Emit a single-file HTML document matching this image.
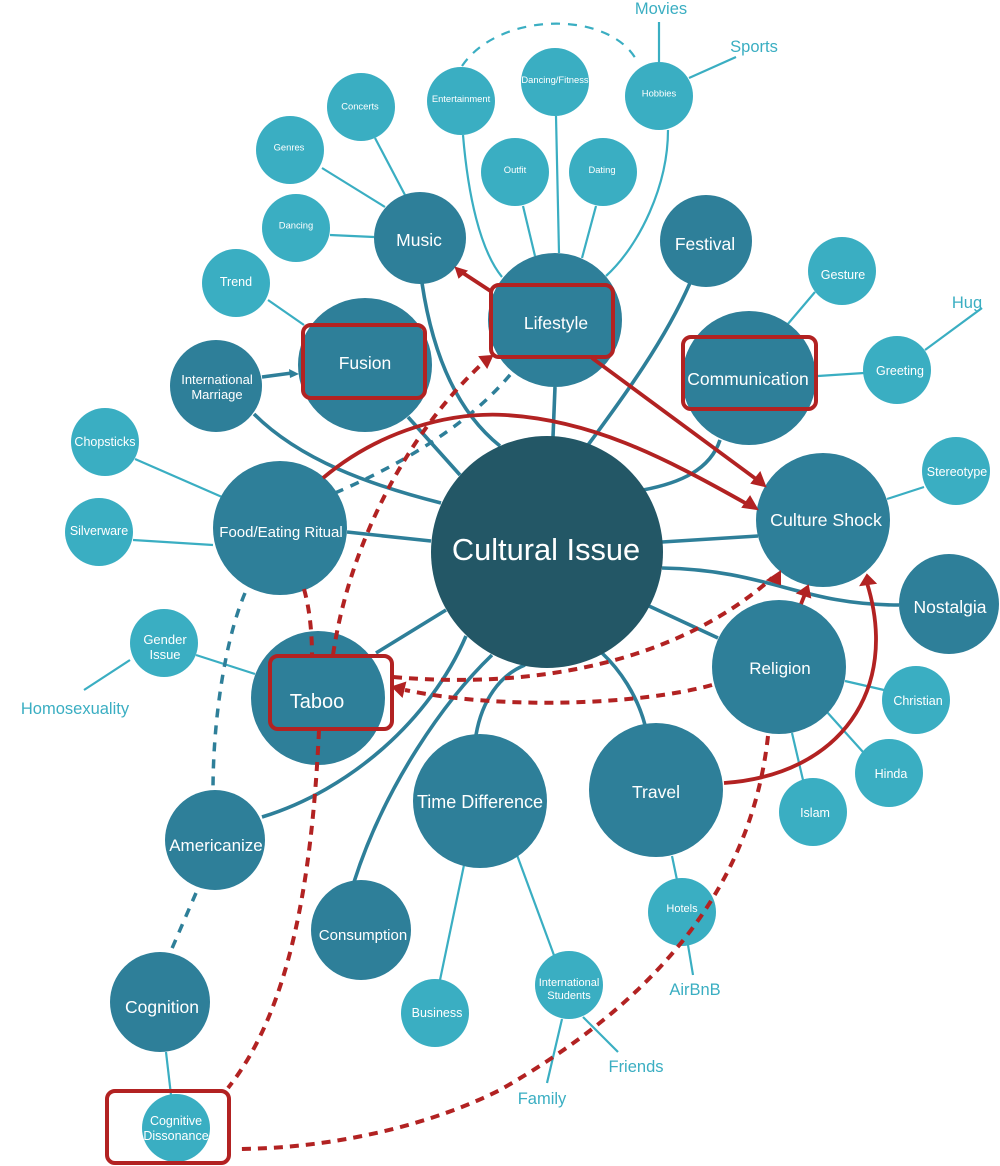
<!DOCTYPE html>
<html><head><meta charset="utf-8"><style>
html,body{margin:0;padding:0;background:#fff}
svg{display:block}
text{font-family:"Liberation Sans",sans-serif;text-anchor:middle;fill:#fff}
.o{fill:#3aaec2;text-anchor:middle}
.d path,.d line{stroke:#2e7f99;stroke-width:3.6;fill:none}
.l path,.l line{stroke:#3aaec2;stroke-width:2.2;fill:none}
.rs path,.rs line{stroke:#b22222;stroke-width:3.8;fill:none}
.rd path{stroke:#b22222;stroke-width:4;fill:none;stroke-dasharray:9 7}
.td path{stroke:#2e7f99;stroke-width:3.5;fill:none;stroke-dasharray:9 8}
.m{fill:#2e7f99}.s{fill:#3aaec2}
rect{fill:none;stroke:#b22222;stroke-width:4}
</style></head><body>
<svg width="1000" height="1166" viewBox="0 0 1000 1166" xmlns="http://www.w3.org/2000/svg">
<g class="l">
<path d="M463 135C468 195 480 250 502 277"/>
<path d="M556 116L559 253"/>
<path d="M523 206L535 256"/>
<path d="M596 206L582 258"/>
<path d="M668 130C668 185 640 245 606 276"/>
<line x1="659" y1="22" x2="659" y2="62"/>
<line x1="689" y1="78" x2="736" y2="57"/>
<line x1="375" y1="138" x2="405" y2="195"/>
<line x1="322" y1="168" x2="385" y2="207"/>
<line x1="330" y1="235" x2="374" y2="237"/>
<line x1="268" y1="300" x2="304" y2="325"/>
<line x1="135" y1="459" x2="222" y2="497"/>
<line x1="133" y1="540" x2="213" y2="545"/>
<line x1="196" y1="655" x2="255" y2="674"/>
<line x1="130" y1="660" x2="84" y2="690"/>
<line x1="815" y1="292" x2="787" y2="325"/>
<line x1="864" y1="373" x2="818" y2="376"/>
<line x1="925" y1="350" x2="982" y2="308"/>
<line x1="924" y1="487" x2="887" y2="499"/>
<line x1="845" y1="681" x2="884" y2="690"/>
<line x1="827" y1="712" x2="863" y2="752"/>
<line x1="792" y1="733" x2="803" y2="780"/>
<line x1="672" y1="856" x2="677" y2="880"/>
<line x1="688" y1="945" x2="693" y2="975"/>
<line x1="464" y1="865" x2="440" y2="980"/>
<line x1="517" y1="855" x2="555" y2="958"/>
<line x1="583" y1="1017" x2="618" y2="1052"/>
<line x1="562" y1="1019" x2="547" y2="1083"/>
<line x1="166" y1="1052" x2="171" y2="1095"/>
<path d="M462 66C500 10 613 10 638 63" stroke-dasharray="9 8" stroke-width="2.6"/>
</g>
<g class="d">
<line x1="262" y1="377" x2="292" y2="373"/>
<path d="M254 414C300 460 370 485 441 503"/>
<line x1="408" y1="417" x2="460" y2="475"/>
<path d="M422 283C432 350 455 410 500 446"/>
<line x1="347" y1="532" x2="431" y2="541"/>
<line x1="376" y1="653" x2="446" y2="610"/>
<path d="M262 817C350 790 430 720 466 636"/>
<path d="M354 882C385 785 445 700 492 655"/>
<path d="M476 735C482 700 500 675 525 665"/>
<path d="M602 653C620 670 637 695 645 725"/>
<line x1="718" y1="638" x2="649" y2="606"/>
<path d="M662 568C770 570 800 605 899 605"/>
<line x1="662" y1="542" x2="758" y2="536"/>
<path d="M643 490C680 483 710 470 720 440"/>
<path d="M690 283C665 340 625 395 588 445"/>
<line x1="555" y1="387" x2="553" y2="437"/>
</g>
<polygon points="299,374 289,369 290,378" fill="#2e7f99"/>
<g class="td">
<path d="M335 493C400 465 470 425 514 370"/>
<path d="M245 593C225 640 213 720 213 790"/>
<path d="M196 893L170 953"/>
</g>
<circle class="m" cx="555" cy="320" r="67"/>
<circle class="m" cx="365" cy="365" r="67"/>
<circle class="m" cx="420" cy="238" r="46"/>
<circle class="m" cx="706" cy="241" r="46"/>
<circle class="m" cx="749" cy="378" r="67"/>
<circle class="m" cx="823" cy="520" r="67"/>
<circle class="m" cx="949" cy="604" r="50"/>
<circle class="m" cx="779" cy="667" r="67"/>
<circle class="m" cx="656" cy="790" r="67"/>
<circle class="m" cx="480" cy="801" r="67"/>
<circle class="m" cx="361" cy="930" r="50"/>
<circle class="m" cx="215" cy="840" r="50"/>
<circle class="m" cx="160" cy="1002" r="50"/>
<circle class="m" cx="318" cy="698" r="67"/>
<circle class="m" cx="280" cy="528" r="67"/>
<circle class="m" cx="216" cy="386" r="46"/>
<circle class="s" cx="956" cy="471" r="34"/>
<circle class="s" cx="916" cy="700" r="34"/>
<circle class="s" cx="889" cy="773" r="34"/>
<circle class="s" cx="813" cy="812" r="34"/>
<circle class="s" cx="682" cy="912" r="34"/>
<circle class="s" cx="435" cy="1013" r="34"/>
<circle class="s" cx="569" cy="985" r="34"/>
<circle class="s" cx="176" cy="1128" r="34"/>
<circle class="s" cx="164" cy="643" r="34"/>
<circle class="s" cx="99" cy="532" r="34"/>
<circle class="s" cx="105" cy="442" r="34"/>
<circle class="s" cx="236" cy="283" r="34"/>
<circle class="s" cx="296" cy="228" r="34"/>
<circle class="s" cx="290" cy="150" r="34"/>
<circle class="s" cx="361" cy="107" r="34"/>
<circle class="s" cx="461" cy="101" r="34"/>
<circle class="s" cx="555" cy="82" r="34"/>
<circle class="s" cx="659" cy="96" r="34"/>
<circle class="s" cx="515" cy="172" r="34"/>
<circle class="s" cx="603" cy="172" r="34"/>
<circle class="s" cx="842" cy="271" r="34"/>
<circle class="s" cx="897" cy="370" r="34"/>
<circle cx="547" cy="552" r="116" fill="#235766"/>
<rect x="491" y="285" width="122" height="72" rx="8"/>
<rect x="303" y="325" width="122" height="73" rx="8"/>
<rect x="683" y="337" width="133" height="72" rx="8"/>
<rect x="270" y="656" width="122" height="73" rx="8"/>
<rect x="107" y="1091" width="122" height="72" rx="8"/>
<g class="rs">
<line x1="492" y1="292" x2="463" y2="273"/>
<line x1="592" y1="358" x2="756" y2="479"/>
<path d="M323 478C380 430 450 412 505 415C590 420 660 455 747 504"/>
<path d="M724 783C840 775 900 690 867 583"/>
<line x1="801" y1="604" x2="805" y2="594"/>
</g>
<g fill="#b22222">
<polygon points="456,268 466,271 459,277" stroke="#b22222" stroke-width="2"/>
<polygon points="765,486 752,483 760,473" stroke="#b22222" stroke-width="2"/>
<polygon points="757,509 743,507 750,497" stroke="#b22222" stroke-width="2"/>
<polygon points="867,575 861,585 875,583" stroke="#b22222" stroke-width="2"/>
<polygon points="808,586 798,593 810,597" stroke="#b22222" stroke-width="2"/>
<polygon points="780,572 768,580 780,584" stroke="#b22222" stroke-width="2"/>
<polygon points="393,687 405,683 402,696" stroke="#b22222" stroke-width="2"/>
<polygon points="492,356 480,357 487,367" stroke="#b22222" stroke-width="2"/>
</g>
<g class="rd">
<path d="M304 589C310 610 312 635 312 655"/>
<path d="M333 655C350 540 410 430 484 362"/>
<path d="M393 677C540 690 680 660 772 578"/>
<path d="M712 685C640 705 500 710 405 690"/>
<path d="M319 730C312 880 290 1010 228 1088"/>
<path d="M768 736C750 900 640 1010 500 1090C420 1130 320 1149 235 1149"/>
</g>
<text x="546" y="560" font-size="30.8">Cultural Issue</text>
<text x="556" y="329" font-size="17.5">Lifestyle</text>
<text x="365" y="369" font-size="17.5">Fusion</text>
<text x="419" y="246" font-size="17.5">Music</text>
<text x="705" y="250" font-size="17.5">Festival</text>
<text x="748" y="385" font-size="17.5">Communication</text>
<text x="826" y="526" font-size="17.8">Culture Shock</text>
<text x="950" y="613" font-size="17.5">Nostalgia</text>
<text x="780" y="674" font-size="17">Religion</text>
<text x="656" y="798" font-size="17.5">Travel</text>
<text x="480" y="808" font-size="18">Time Difference</text>
<text x="363" y="940" font-size="15">Consumption</text>
<text x="216" y="851" font-size="17">Americanize</text>
<text x="162" y="1013" font-size="17.5">Cognition</text>
<text x="317" y="708" font-size="20">Taboo</text>
<text x="281" y="537" font-size="15">Food/Eating Ritual</text>
<text x="217" y="384" font-size="13">International</text>
<text x="217" y="399" font-size="13">Marriage</text>
<text x="957" y="476" font-size="12.5">Stereotype</text>
<text x="918" y="705" font-size="12.5">Christian</text>
<text x="891" y="778" font-size="12.5">Hinda</text>
<text x="815" y="817" font-size="12.5">Islam</text>
<text x="682" y="912" font-size="11">Hotels</text>
<text x="437" y="1017" font-size="12.5">Business</text>
<text x="569" y="986" font-size="11">International</text>
<text x="569" y="999" font-size="11">Students</text>
<text x="176" y="1125" font-size="12.5">Cognitive</text>
<text x="176" y="1140" font-size="12.5">Dissonance</text>
<text x="165" y="644" font-size="13">Gender</text>
<text x="165" y="659" font-size="13">Issue</text>
<text x="99" y="535" font-size="12.5">Silverware</text>
<text x="105" y="446" font-size="12.5">Chopsticks</text>
<text x="236" y="286" font-size="12.5">Trend</text>
<text x="296" y="228.5" font-size="9.4">Dancing</text>
<text x="289" y="150.5" font-size="9.4">Genres</text>
<text x="360" y="109.5" font-size="9.4">Concerts</text>
<text x="461" y="102" font-size="9.4">Entertainment</text>
<text x="555" y="83" font-size="9.4">Dancing/Fitness</text>
<text x="659" y="96.5" font-size="9.4">Hobbies</text>
<text x="515" y="173" font-size="9.4">Outfit</text>
<text x="602" y="173" font-size="9.4">Dating</text>
<text x="843" y="279" font-size="12.5">Gesture</text>
<text x="900" y="375" font-size="12.5">Greeting</text>
<text class="o" x="661" y="14" font-size="16.5">Movies</text>
<text class="o" x="754" y="52" font-size="16.5">Sports</text>
<text class="o" x="967" y="308" font-size="16.5">Hug</text>
<text class="o" x="75" y="714" font-size="16.5">Homosexuality</text>
<text class="o" x="695" y="995" font-size="16.5">AirBnB</text>
<text class="o" x="636" y="1072" font-size="16.5">Friends</text>
<text class="o" x="542" y="1104" font-size="16.5">Family</text>
</svg>
</body></html>
